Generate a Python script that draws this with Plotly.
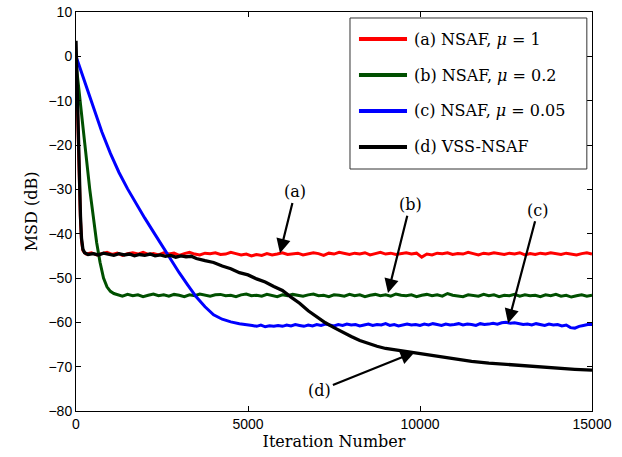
import plotly.graph_objects as go

# ---------------- data ----------------
# (a) NSAF, mu = 1  (red)
red_x = [0, 20, 40, 70, 100, 130, 160, 200, 250] + list(range(300, 15001, 150))
red_y = [0.5, -6.0, -14.0, -24.0, -31.0, -37.0, -41.5, -43.8, -44.3,
         -44.6, -44.3, -44.8, -44.5, -44.2, -44.7, -44.4, -44.9, -44.5, -44.3,
         -44.6, -44.2, -44.7, -44.5, -44.8, -44.3, -44.6, -44.4, -44.9, -44.5,
         -44.2, -44.6, -44.8, -44.4, -44.5, -44.3, -44.7, -44.6, -44.2, -44.5,
         -44.8, -44.6, -45.0, -44.7, -44.9, -44.5, -44.8, -44.6, -44.3, -44.7,
         -44.5, -44.4, -44.8, -44.6, -44.3, -44.5, -44.9, -44.4, -44.6, -44.2,
         -44.5, -44.7, -44.4, -44.6, -44.3, -44.8, -44.5, -44.2, -44.6, -44.4,
         -44.7, -44.5, -44.3, -44.6, -44.4, -45.3, -44.6, -44.8, -44.4, -44.5,
         -44.3, -44.7, -44.5, -44.6, -44.2, -44.5, -44.8, -44.4, -44.6, -44.3,
         -44.5, -44.7, -44.4, -44.6, -44.3, -44.8, -44.5, -44.7, -44.4, -44.6,
         -44.3, -44.5, -44.7, -44.4, -44.6, -44.8, -44.5, -44.3, -44.6]

# (b) NSAF, mu = 0.2  (dark green)
green_x = [0, 50, 100, 200, 300, 400, 500, 600, 700, 800, 900, 1000, 1100, 1200] + list(range(1350, 15001, 150))
green_y = [-1.5, -5.0, -9.0, -17.0, -23.5, -30.0, -36.0, -42.0, -46.5, -50.0, -52.0, -53.0, -53.5, -53.8,
           -54.1, -53.7, -54.0, -53.8, -54.2, -53.9, -53.6, -54.0, -53.8, -54.1,
           -53.7, -53.9, -54.2, -53.8, -54.0, -53.6, -53.9, -54.1, -53.8, -53.7,
           -54.0, -53.9, -54.2, -53.8, -53.6, -54.0, -53.9, -54.1, -53.7, -53.9,
           -54.2, -53.8, -54.0, -53.7, -53.9, -54.1, -53.8, -53.6, -54.0, -53.9,
           -54.2, -53.8, -53.9, -54.1, -53.7, -54.0, -53.8, -54.2, -53.9, -53.7,
           -54.0, -53.8, -54.1, -53.6, -53.9, -54.0, -53.8, -54.2, -53.9, -53.7,
           -54.0, -53.8, -54.1, -53.5, -53.9, -54.0, -54.2, -53.8, -53.9, -54.1,
           -53.7, -54.0, -53.8, -54.2, -53.9, -54.0, -53.7, -54.1, -53.8, -54.0,
           -53.9, -54.2, -53.8, -54.0, -53.7, -54.1, -53.9, -54.3, -54.0, -53.8,
           -54.1, -53.9]

# (c) NSAF, mu = 0.05  (blue)
blue_x = list(range(0, 4751, 250)) + list(range(5000, 15001, 125))
blue_y = [0.0, -5.6, -11.3, -17.0, -21.9, -26.2, -29.9, -33.3, -36.5, -39.6,
          -42.7, -45.8, -48.8, -51.6, -54.3, -56.5, -58.3, -59.3, -59.9, -60.3,
          -60.5, -60.7, -60.9, -60.6, -61.0, -60.8, -60.9, -60.7, -60.9, -60.6,
          -60.8, -60.5, -60.7, -60.9, -60.6, -60.8, -60.5, -60.7, -60.4, -60.6,
          -60.8, -60.5, -60.7, -60.4, -60.6, -60.5, -60.8, -60.6, -60.4, -60.7,
          -60.5, -60.6, -60.3, -60.7, -60.5, -60.8, -60.6, -60.4, -60.6, -60.5,
          -60.7, -60.4, -60.6, -60.3, -60.5, -60.7, -60.4, -60.6, -60.5, -60.3,
          -60.6, -60.4, -60.5, -60.7, -60.3, -60.5, -60.4, -60.2, -60.4, -60.1,
          -60.0, -60.2, -60.1, -60.3, -60.5, -60.4, -60.6, -60.3, -60.5, -60.7,
          -60.4, -60.6, -60.5, -60.8, -60.6, -61.2, -61.3, -60.9, -60.7, -60.5,
          -60.5]

# (d) VSS-NSAF  (black)
black_x = ([0, 20, 40, 70, 100, 130, 160, 200, 250, 350]
           + list(range(500, 3351, 150))
           + list(range(3500, 9001, 250))
           + list(range(9500, 15001, 500)))
black_y = [3.5, -3.0, -12.0, -22.0, -30.0, -36.0, -41.0, -43.5, -44.3, -44.7,
           -44.5, -44.8, -44.4, -44.7, -44.9, -44.5, -44.8, -44.6, -45.0, -44.7,
           -44.9, -44.6, -45.0, -44.8, -45.1, -44.9, -45.3, -45.0, -45.2, -45.1,
           -45.6, -46.1, -46.5, -47.3, -47.9, -48.8, -49.3, -50.2, -50.9, -51.9,
           -52.8, -54.3, -55.7, -57.4, -58.8, -60.1, -61.2, -62.3, -63.2, -64.1,
           -64.8, -65.4, -65.9,
           -66.5, -67.1, -67.7, -68.3, -68.8, -69.2, -69.5, -69.8, -70.1, -70.3,
           -70.6, -70.8]

series_names = ["(a) NSAF, <i>μ</i> = 1", "(b) NSAF, <i>μ</i> = 0.2",
                "(c) NSAF, <i>μ</i> = 0.05", "(d) VSS-NSAF"]
series_colors = ["#ff0000", "#005000", "#0000ff", "#000000"]

# callout labels: text, (tip x, tip y), (label x, label y)
callout_text = ["(a)", "(b)", "(c)", "(d)"]
callout_tip = [(5930, -44.4), (9070, -53.4), (12560, -60.2), (9850, -66.7)]
callout_lab = [(6370, -30.6), (9710, -33.5), (13430, -34.7), (7090, -75.3)]

x_ticks = [0, 5000, 10000, 15000]
y_ticks = [10, 0, -10, -20, -30, -40, -50, -60, -70, -80]

# ---------------- figure ----------------
SERIF = "DejaVu Serif"
SANS = "Liberation Sans, Arial, sans-serif"

fig = go.Figure()
for xs, ys, name, col in zip([red_x, green_x, blue_x, black_x],
                             [red_y, green_y, blue_y, black_y],
                             series_names, series_colors):
    fig.add_trace(go.Scatter(x=xs, y=ys, mode="lines", name=name,
                             line=dict(color=col, width=3 if col != "#000000" else 3.3),
                             showlegend=False))

for t, tip, lab in zip(callout_text, callout_tip, callout_lab):
    fig.add_annotation(x=tip[0], y=tip[1], ax=lab[0], ay=lab[1],
                       xref="x", yref="y", axref="x", ayref="y",
                       text=t, showarrow=True, arrowhead=2, arrowsize=1.3,
                       arrowwidth=2.2, arrowcolor="black", standoff=0,
                       font=dict(family=SERIF, size=16, color="black"))

# manual legend (box, line samples, labels) in paper coordinates
lx0, lx1, ly0, ly1 = 0.531, 0.990, 0.6065, 0.985
fig.add_shape(type="rect", xref="paper", yref="paper", x0=lx0, x1=lx1, y0=ly0, y1=ly1,
              line=dict(color="#333333", width=1), fillcolor="white", layer="above")
row_y = [0.9323, 0.8421, 0.7519, 0.6617]
for name, col, ry in zip(series_names, series_colors, row_y):
    fig.add_shape(type="line", xref="paper", yref="paper", x0=0.5484, x1=0.6415,
                  y0=ry, y1=ry, line=dict(color=col, width=4), layer="above")
    fig.add_annotation(xref="paper", yref="paper", x=0.6512, y=ry, text=name,
                       showarrow=False, xanchor="left", yanchor="middle",
                       font=dict(family=SERIF, size=16, color="black"))

axis_common = dict(showline=True, linecolor="black", linewidth=1, mirror="ticks",
                   ticks="inside", ticklen=5, tickcolor="black", showgrid=False,
                   zeroline=False, automargin=False,
                   tickfont=dict(family=SANS, size=14, color="black"))

fig.update_xaxes(range=[0, 15000], tickvals=x_ticks, ticktext=[str(v) for v in x_ticks],
                 title=dict(text="Iteration Number", standoff=4,
                            font=dict(family=SERIF, size=16, color="black")),
                 **axis_common)
fig.update_yaxes(range=[-80, 10], tickvals=y_ticks,
                 ticktext=[("−" + str(-v)) if v < 0 else str(v) for v in y_ticks],
                 title=dict(text="MSD (dB)", standoff=6,
                            font=dict(family=SERIF, size=16, color="black")),
                 **axis_common)

fig.update_layout(width=622, height=457, margin=dict(l=76, r=30, t=12, b=46, autoexpand=False),
                  plot_bgcolor="white", paper_bgcolor="white", showlegend=False)

fig.write_html("out.html", config={"displayModeBar": False},
               post_script="document.body.style.margin='0px';")
